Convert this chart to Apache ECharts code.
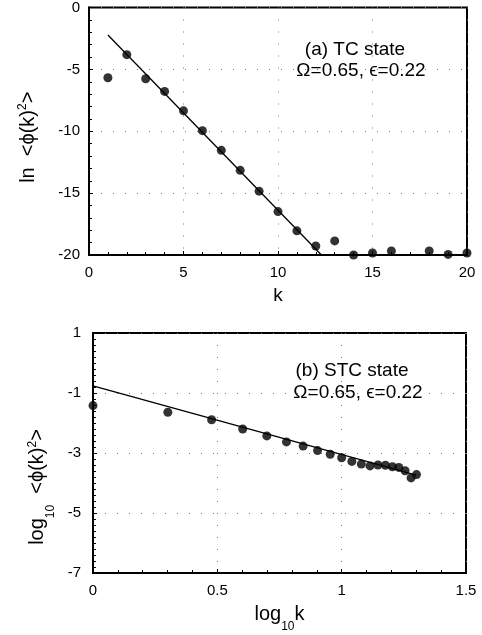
<!DOCTYPE html>
<html>
<head>
<meta charset="utf-8">
<script src="https://cdn.jsdelivr.net/npm/echarts@6/dist/echarts.min.js"></script>
<style>
  html, body { margin: 0; padding: 0; background: #fff; }
  #chart { width: 482px; height: 635px; }
</style>
</head>
<body>
<div id="chart"></div>
<script>
// (a) TC state: ln <phi(k)^2> against k
const kTC = [1, 2, 3, 4, 5, 6, 7, 8, 9, 10, 11, 12, 13, 14, 15, 16, 18, 19, 20];
const lnPhiTC = [-5.68, -3.81, -5.76, -6.78, -8.35, -9.95, -11.54, -13.16, -14.84, -16.49,
                 -18.05, -19.27, -18.86, -20.0, -19.84, -19.68, -19.68, -19.95, -19.84];
// straight-line fit through the exponential decay
const fitTCk = [1, 12.3];
const fitTCy = [-2.22, -20.0];

// (b) STC state: log10 <phi(k)^2> against log10 k, k = 1..20
const logkSTC = [0, 0.301, 0.477, 0.602, 0.699, 0.778, 0.845, 0.903, 0.954, 1.0,
                 1.041, 1.079, 1.114, 1.146, 1.176, 1.204, 1.230, 1.255, 1.279, 1.301];
const logPhiSTC = [-1.42, -1.64, -1.89, -2.20, -2.43, -2.63, -2.77, -2.92, -3.04, -3.16,
                   -3.28, -3.37, -3.43, -3.40, -3.41, -3.46, -3.48, -3.59, -3.83, -3.72];
// power-law fit
const fitSTCx = [0, 1.30];
const fitSTCy = [-0.76, -3.74];

// axis tick labels
const xTicksTC = [0, 5, 10, 15, 20];
const yTicksTC = [0, -5, -10, -15, -20];
const xTicksSTC = [0, 0.5, 1, 1.5];
const yTicksSTC = [1, -1, -3, -5, -7];

const FONT = '"Liberation Sans", Arial, sans-serif';
const ink = '#000';
const gridDots = { color: '#777', width: 1, type: [1, 11] };

function axisCommon() {
  return {
    axisLine: { show: true, onZero: false, lineStyle: { color: ink, width: 2 } },
    axisTick: { show: true, inside: true, length: 4, lineStyle: { color: ink, width: 1 } },
    axisLabel: { color: ink, fontFamily: FONT, fontSize: 15 },
    splitLine: { show: true, lineStyle: gridDots },
    nameTextStyle: { color: ink, fontFamily: FONT, fontSize: 19 }
  };
}

// rich-text pieces for axis titles: t = normal, s = subscript, p = superscript
const richName = {
  t: { fontFamily: FONT, fontSize: 20, lineHeight: 22, color: ink },
  s: { fontFamily: FONT, fontSize: 12, color: ink, verticalAlign: 'bottom', padding: [0, 0, -8, 0] },
  p: { fontFamily: FONT, fontSize: 12, lineHeight: 12, color: ink, verticalAlign: 'top' }
};

const pairs = (xs, ys) => xs.map((x, i) => [x, ys[i]]);

const chart = echarts.init(document.getElementById('chart'), null, { renderer: 'canvas' });

chart.setOption({
  backgroundColor: '#fff',
  animation: false,
  grid: [
    { left: 89, top: 7, width: 378, height: 248, show: true, borderColor: ink, borderWidth: 2, backgroundColor: 'transparent' },
    { left: 93, top: 333, width: 373, height: 240, show: true, borderColor: ink, borderWidth: 2, backgroundColor: 'transparent' }
  ],
  xAxis: [
    Object.assign(axisCommon(), {
      gridIndex: 0, type: 'value', min: xTicksTC[0], max: xTicksTC[xTicksTC.length - 1], interval: 5,
      name: 'k', nameLocation: 'middle', nameGap: 31,
      minorTick: { show: true, splitNumber: 5, length: 3, lineStyle: { color: ink } },
      axisLabel: { color: ink, fontFamily: FONT, fontSize: 15, margin: 10 }
    }),
    Object.assign(axisCommon(), {
      gridIndex: 1, type: 'value', min: xTicksSTC[0], max: xTicksSTC[xTicksSTC.length - 1], interval: 0.5,
      name: '{t|log}{s|10}{t|k}', nameLocation: 'middle', nameGap: 30,
      nameTextStyle: { rich: richName },
      minorTick: { show: true, splitNumber: 5, length: 3, lineStyle: { color: ink } },
      axisLabel: { color: ink, fontFamily: FONT, fontSize: 15, margin: 10, formatter: v => String(v) }
    })
  ],
  yAxis: [
    Object.assign(axisCommon(), {
      gridIndex: 0, type: 'value', min: yTicksTC[yTicksTC.length - 1], max: yTicksTC[0], interval: 5,
      name: '{t|ln  <ϕ(k)}{p|2}{t|>}', nameLocation: 'middle', nameGap: 50, nameRotate: 90,
      nameTextStyle: { padding: [0, 12, 0, 0], rich: richName },
      minorTick: { show: true, splitNumber: 5, length: 3, lineStyle: { color: ink } },
      axisLabel: { color: ink, fontFamily: FONT, fontSize: 15, margin: 9 }
    }),
    Object.assign(axisCommon(), {
      gridIndex: 1, type: 'value', min: yTicksSTC[yTicksSTC.length - 1], max: yTicksSTC[0], interval: 2,
      name: '{t|log}{s|10}{t|  <ϕ(k)}{p|2}{t|>}', nameLocation: 'middle', nameGap: 35, nameRotate: 90,
      nameTextStyle: { padding: [0, 68, 0, 0], rich: richName },
      minorTick: { show: true, splitNumber: 10, length: 3, lineStyle: { color: ink } },
      axisLabel: { color: ink, fontFamily: FONT, fontSize: 15, margin: 12 }
    })
  ],
  graphic: [
    { type: 'text', x: 355, y: 50, style: { text: '(a) TC state', font: '19px ' + FONT, fill: ink, align: 'center', verticalAlign: 'middle' } },
    { type: 'text', x: 361, y: 71, style: { text: 'Ω=0.65, ϵ=0.22', font: '19px ' + FONT, fill: ink, align: 'center', verticalAlign: 'middle' } },
    { type: 'text', x: 352, y: 371, style: { text: '(b) STC state', font: '19px ' + FONT, fill: ink, align: 'center', verticalAlign: 'middle' } },
    { type: 'text', x: 358, y: 393, style: { text: 'Ω=0.65, ϵ=0.22', font: '19px ' + FONT, fill: ink, align: 'center', verticalAlign: 'middle' } }
  ],
  series: [
    {
      type: 'line', xAxisIndex: 0, yAxisIndex: 0, data: pairs(fitTCk, fitTCy),
      showSymbol: false, lineStyle: { color: ink, width: 1.3 }, z: 3
    },
    {
      type: 'scatter', xAxisIndex: 0, yAxisIndex: 0, data: pairs(kTC, lnPhiTC),
      symbol: 'circle', symbolSize: 9, itemStyle: { color: ink }, clip: false, z: 4
    },
    {
      type: 'line', xAxisIndex: 1, yAxisIndex: 1, data: pairs(fitSTCx, fitSTCy),
      showSymbol: false, lineStyle: { color: ink, width: 1.3 }, z: 3
    },
    {
      type: 'scatter', xAxisIndex: 1, yAxisIndex: 1, data: pairs(logkSTC, logPhiSTC),
      symbol: 'circle', symbolSize: 9, itemStyle: { color: ink }, clip: false, z: 4
    }
  ]
});
</script>
</body>
</html>
